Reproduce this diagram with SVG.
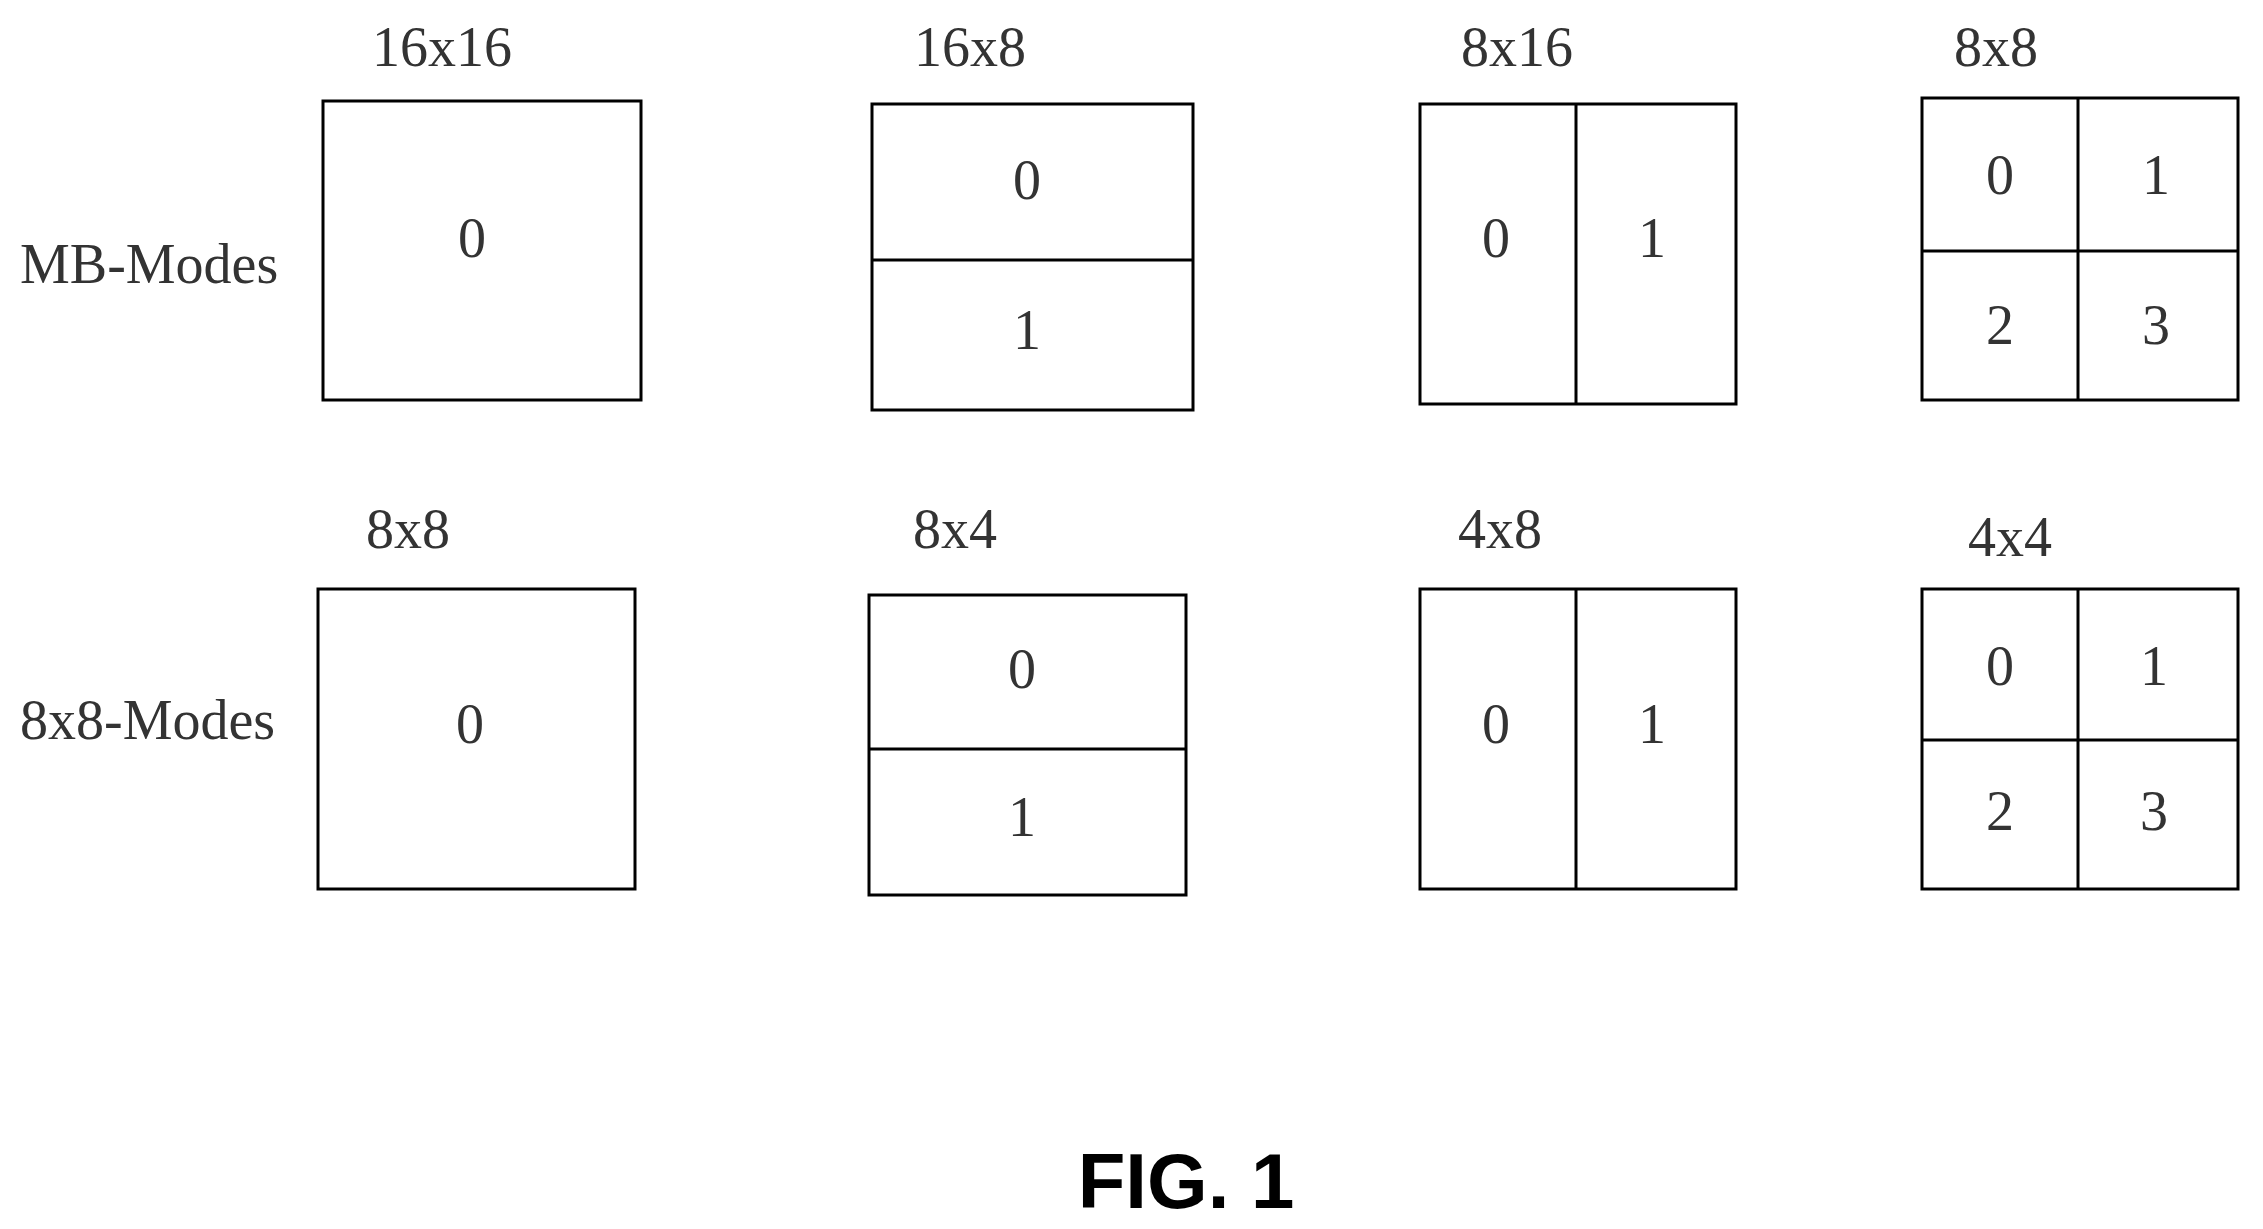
<svg xmlns="http://www.w3.org/2000/svg" width="2263" height="1229" viewBox="0 0 2263 1229">
<style>
rect{fill:none;stroke:#000;stroke-width:3}
line{stroke:#000;stroke-width:3}
text{font-family:"Liberation Serif",serif;font-size:56px;fill:#333;text-anchor:middle}
.l{text-anchor:start}
.fig{font-family:"Liberation Sans",sans-serif;font-weight:bold;font-size:78px;fill:#000}
</style>
<rect x="0" y="0" width="2263" height="1229" fill="#fff" style="fill:#fff;stroke:none"/>
<g id="row-labels"><text class="l" x="20" y="283">MB-Modes</text><text class="l" x="20" y="739">8x8-Modes</text></g>
<g id="mb16x16"><text x="442" y="66">16x16</text><rect x="323" y="101" width="318" height="299"/><text x="472" y="257">0</text></g>
<g id="mb16x8"><text x="970" y="66">16x8</text><rect x="872" y="104" width="321" height="306"/><line x1="872" y1="260" x2="1193" y2="260"/><text x="1027" y="199">0</text><text x="1027" y="349">1</text></g>
<g id="mb8x16"><text x="1517" y="66">8x16</text><rect x="1420" y="104" width="316" height="300"/><line x1="1576" y1="104" x2="1576" y2="404"/><text x="1496" y="257">0</text><text x="1652" y="257">1</text></g>
<g id="mb8x8"><text x="1996" y="66">8x8</text><rect x="1922" y="98" width="316" height="302"/><line x1="2078" y1="98" x2="2078" y2="400"/><line x1="1922" y1="251" x2="2238" y2="251"/><text x="2000" y="194">0</text><text x="2156" y="194">1</text><text x="2000" y="344">2</text><text x="2156" y="344">3</text></g>
<g id="s8x8"><text x="408" y="548">8x8</text><rect x="318" y="589" width="317" height="300"/><text x="470" y="743">0</text></g>
<g id="s8x4"><text x="955" y="548">8x4</text><rect x="869" y="595" width="317" height="300"/><line x1="869" y1="749" x2="1186" y2="749"/><text x="1022" y="688">0</text><text x="1022" y="836">1</text></g>
<g id="s4x8"><text x="1500" y="548">4x8</text><rect x="1420" y="589" width="316" height="300"/><line x1="1576" y1="589" x2="1576" y2="889"/><text x="1496" y="743">0</text><text x="1652" y="743">1</text></g>
<g id="s4x4"><text x="2010" y="556">4x4</text><rect x="1922" y="589" width="316" height="300"/><line x1="2078" y1="589" x2="2078" y2="889"/><line x1="1922" y1="740" x2="2238" y2="740"/><text x="2000" y="685">0</text><text x="2154" y="685">1</text><text x="2000" y="830">2</text><text x="2154" y="830">3</text></g>
<g id="connectors"/>
<text class="fig" x="1186" y="1208">FIG. 1</text>
</svg>
